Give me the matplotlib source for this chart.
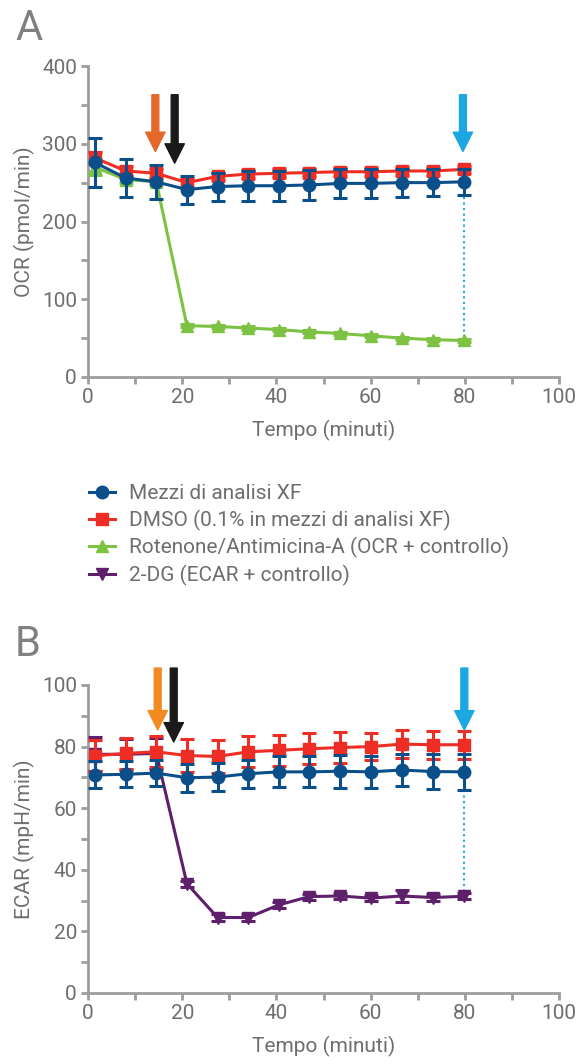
import matplotlib
matplotlib.use("Agg")
import matplotlib.pyplot as plt
from matplotlib.lines import Line2D

plt.rcParams['font.family'] = ['Roboto', 'DejaVu Sans']

# ---- data ----
t = [1.4, 8.0, 14.5, 21.0, 27.5, 34.0, 40.5, 47.0, 53.5, 60.0, 66.6, 73.2, 79.8]

ocr_xf = [276, 256, 251, 241, 245, 246, 246, 247, 249, 249, 250, 250, 251]
ocr_xf_err = [31, 24, 22, 18, 18, 19, 19, 19, 19, 19, 18, 17, 17]
ocr_dmso = [282, 265, 262, 250, 258, 261, 262, 263, 264, 264, 265, 265, 267]
ocr_dmso_err = [8, 6, 6, 5, 5, 5, 5, 5, 5, 5, 5, 5, 5]
ocr_rot = [270, 254, 251, 66, 65, 63, 61, 58, 56, 53, 50, 48, 47]
ocr_rot_err = [10, 5, 4, 2, 2, 2, 2, 2, 2, 2, 2, 2, 2]

ecar_xf = [70.8, 71.0, 71.4, 69.9, 70.1, 71.2, 71.8, 71.8, 72.0, 71.8, 72.4, 71.9, 71.8]
ecar_xf_err = [4.4, 4.2, 4.2, 4.6, 4.6, 4.6, 5.0, 5.0, 5.3, 5.3, 5.3, 5.8, 5.8]
ecar_dmso = [77.0, 77.8, 78.3, 77.1, 76.8, 78.3, 78.8, 79.3, 79.7, 80.0, 80.8, 80.6, 80.6]
ecar_dmso_err = [5, 5, 5, 5.5, 5.5, 5, 5, 5, 5, 4.5, 4.5, 4.5, 4.5]
ecar_2dg = [77.5, 77.5, 77.8, 35.5, 24.5, 24.5, 28.6, 31.3, 31.5, 30.8, 31.5, 31.0, 31.4]
ecar_2dg_err = [5.5, 5, 5, 1, 1, 1, 1, 1, 1, 1, 2, 1, 1]

labels = ["Mezzi di analisi XF", "DMSO (0.1% in mezzi di analisi XF)",
          "Rotenone/Antimicina-A (OCR + controllo)", "2-DG (ECAR + controllo)"]

C_BLUE = "#0b4f8a"
C_RED = "#ee2e24"
C_GREEN = "#7dc242"
C_PURPLE = "#5e1f6b"
C_ORANGE_A = "#e3682a"
C_ORANGE_B = "#f28a22"
C_BLACK = "#1a1a1a"
C_CYAN = "#1ba7e1"
C_AXIS = "#9d9d9d"
C_TEXT = "#6d6e71"
C_PANEL = "#808083"

FS = 15

fig = plt.figure(figsize=(5.87, 10.64), dpi=100)
axA = fig.add_axes([88/587, 1-377/1064, 471/587, 311/1064])
axB = fig.add_axes([88/587, 1-993/1064, 471/587, 308/1064])


def style(ax, ymax, ymajor, yminor, ylabel):
    ax.set_xlim(0, 100)
    ax.set_ylim(0, ymax)
    for s in ['top', 'right']:
        ax.spines[s].set_visible(False)
    for s in ['left', 'bottom']:
        ax.spines[s].set_color(C_AXIS)
        ax.spines[s].set_linewidth(2)
    ax.set_xticks(range(0, 101, 20))
    ax.set_xticks(range(10, 101, 20), minor=True)
    ax.set_yticks(range(0, ymax + 1, ymajor))
    ax.set_yticks(range(yminor, ymax, ymajor), minor=True)
    ax.tick_params(which='both', colors=C_AXIS, width=2, direction='out',
                   labelcolor=C_TEXT, labelsize=FS, length=5, pad=3)
    ax.set_xlabel("Tempo (minuti)", fontsize=FS, color=C_TEXT, labelpad=9)
    ax.set_ylabel(ylabel, fontsize=FS, color=C_TEXT, labelpad=5)


def series(ax, y, e, color, marker, ms, z):
    ax.errorbar(t, y, yerr=e, color=color, marker=marker, ms=ms, lw=2.2,
                elinewidth=2.2, capsize=5, capthick=2.2, zorder=z, clip_on=False)


def arrow(ax, x, y0, y1, color):
    ax.annotate('', xy=(x, y1), xytext=(x, y0),
                arrowprops=dict(arrowstyle='simple,head_length=0.9,head_width=0.9,tail_width=0.32',
                                color=color, mutation_scale=15.5, shrinkA=0, shrinkB=0),
                annotation_clip=False, zorder=6)


# Panel A
style(axA, 400, 100, 50, "OCR (pmol/min)")
series(axA, ocr_rot, ocr_rot_err, C_GREEN, '^', 9, 3)
series(axA, ocr_dmso, ocr_dmso_err, C_RED, 's', 9, 4)
series(axA, ocr_xf, ocr_xf_err, C_BLUE, 'o', 9, 5)
axA.plot([79.8, 79.8], [232, 49], ls=':', color=C_CYAN, lw=1.5, zorder=2)
arrow(axA, 14.3, 363, 290, C_ORANGE_A)
arrow(axA, 18.4, 363, 275, C_BLACK)
arrow(axA, 79.6, 363, 290, C_CYAN)
fig.text(15/587, 1-28/1064, "A", fontsize=30, color=C_PANEL, va='center', ha='left',
         fontweight='normal')

# Panel B
style(axB, 100, 20, 10, "ECAR (mpH/min)")
series(axB, ecar_2dg, ecar_2dg_err, C_PURPLE, 'v', 9, 3)
series(axB, ecar_dmso, ecar_dmso_err, C_RED, 's', 9, 4)
series(axB, ecar_xf, ecar_xf_err, C_BLUE, 'o', 9, 5)
axB.plot([79.8, 79.8], [66, 32], ls=':', color=C_CYAN, lw=1.5, zorder=2)
arrow(axB, 14.8, 105.5, 85.4, C_ORANGE_B)
arrow(axB, 18.2, 105.5, 81.5, C_BLACK)
arrow(axB, 79.9, 105.5, 85.4, C_CYAN)
fig.text(15/587, 1-644/1064, "B", fontsize=30, color=C_PANEL, va='center', ha='left',
         fontweight='normal')

# Legend
handles = [
    Line2D([], [], color=C_BLUE, marker='o', ms=9, lw=2.2),
    Line2D([], [], color=C_RED, marker='s', ms=9, lw=2.2),
    Line2D([], [], color=C_GREEN, marker='^', ms=9, lw=2.2),
    Line2D([], [], color=C_PURPLE, marker='v', ms=9, lw=2.2),
]
leg = fig.legend(handles, labels, loc='center left', bbox_to_anchor=(70/587, 1-535/1064),
                 frameon=False, fontsize=FS, handlelength=1.25, handletextpad=0.7,
                 labelspacing=0.32, labelcolor=C_TEXT)

fig.savefig("out.png", dpi=100)
